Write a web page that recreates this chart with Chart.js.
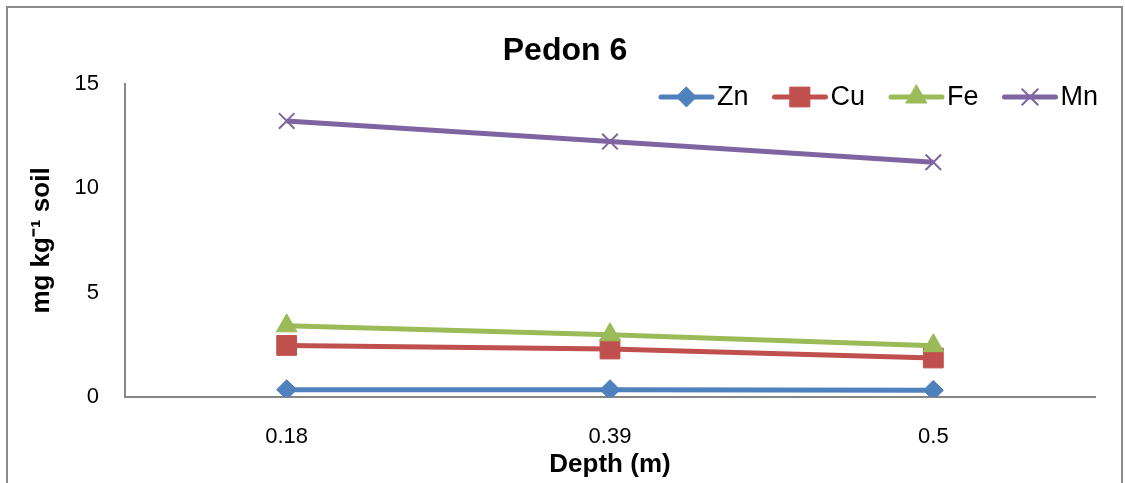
<!DOCTYPE html>
<html>
<head>
<meta charset="utf-8">
<script src="https://cdn.jsdelivr.net/npm/chart.js@4.4.1/dist/chart.umd.min.js"></script>
<style>
  html, body { margin: 0; padding: 0; background: #ffffff; }
  #wrap { width: 1125px; height: 483px; position: relative; }
</style>
</head>
<body>
<div id="wrap"><canvas id="c" width="1125" height="483"></canvas></div>
<script>
// Depth categories (m)
const depths = ['0.18', '0.39', '0.5'];

// Micronutrient contents, mg kg-1 soil
const zn = [0.35, 0.35, 0.32];
const cu = [2.47, 2.30, 1.87];
const fe = [3.41, 2.98, 2.46];
const mn = [13.23, 12.24, 11.25];

const seriesNames = ['Zn', 'Cu', 'Fe', 'Mn'];
const yTicks = [0, 5, 10, 15];

const FONT = "'Liberation Sans', Arial, sans-serif";
const colors = { Zn: '#4F81BD', Cu: '#C0504D', Fe: '#9BBB59', Mn: '#8064A2' };
const styles = {
  Zn: { pointStyle: 'rectRot', radius: 10, bw: 1 },
  Cu: { pointStyle: 'rect', radius: 14, bw: 1 },
  Fe: { pointStyle: 'triangle', radius: 12, bw: 1 },
  Mn: { pointStyle: 'crossRot', radius: 11, bw: 2 }
};
const values = { Zn: zn, Cu: cu, Fe: fe, Mn: mn };

function makeDataset(name, order) {
  const s = styles[name];
  return {
    label: name,
    data: values[name],
    borderColor: colors[name],
    backgroundColor: colors[name],
    borderWidth: 5,
    tension: 0,
    pointStyle: s.pointStyle,
    pointRadius: s.radius,
    pointHoverRadius: s.radius,
    pointBorderWidth: s.bw,
    pointBackgroundColor: colors[name],
    pointBorderColor: colors[name],
    order: order
  };
}

// Marker painter for the legend keys
function drawMarker(ctx, style, x, y, r, color, bw) {
  ctx.save();
  ctx.fillStyle = color;
  ctx.strokeStyle = color;
  ctx.lineWidth = bw;
  ctx.beginPath();
  if (style === 'rectRot') {
    ctx.moveTo(x, y - r); ctx.lineTo(x + r, y); ctx.lineTo(x, y + r); ctx.lineTo(x - r, y);
    ctx.closePath(); ctx.fill(); ctx.stroke();
  } else if (style === 'rect') {
    const h = r * Math.SQRT1_2;
    ctx.rect(x - h, y - h, 2 * h, 2 * h); ctx.fill(); ctx.stroke();
  } else if (style === 'triangle') {
    const w = r * Math.sin(Math.PI / 3);
    ctx.moveTo(x, y - r); ctx.lineTo(x + w, y + r / 2); ctx.lineTo(x - w, y + r / 2);
    ctx.closePath(); ctx.fill(); ctx.stroke();
  } else if (style === 'crossRot') {
    const d = r * Math.SQRT1_2;
    ctx.moveTo(x - d, y - d); ctx.lineTo(x + d, y + d);
    ctx.moveTo(x - d, y + d); ctx.lineTo(x + d, y - d);
    ctx.stroke();
  }
  ctx.restore();
}

// Outer frame and white backdrop
const framePlugin = {
  id: 'frame',
  beforeDraw(chart) {
    const ctx = chart.ctx;
    ctx.save();
    ctx.fillStyle = '#ffffff';
    ctx.fillRect(0, 0, chart.width, chart.height);
    ctx.strokeStyle = '#8a8a8a';
    ctx.lineWidth = 2;
    ctx.strokeRect(7, 7, 1115, 520);
    ctx.restore();
  }
};

// Legend drawn inside the plot, line + marker keys
const lineLegend = {
  id: 'lineLegend',
  afterDraw(chart) {
    const ctx = chart.ctx;
    const font = '27px ' + FONT;
    ctx.save();
    ctx.font = font;
    const keyLen = 55, textGap = 3, itemGap = 24;
    const widths = seriesNames.map(n => ctx.measureText(n).width);
    let total = 0;
    widths.forEach((w, i) => { total += keyLen + textGap + w + (i < widths.length - 1 ? itemGap : 0); });
    let x = chart.chartArea.right + 3 - total;
    const y = chart.chartArea.top + 13;
    seriesNames.forEach((n, i) => {
      const s = styles[n];
      ctx.strokeStyle = colors[n];
      ctx.lineWidth = 5;
      ctx.lineCap = 'round';
      ctx.beginPath();
      ctx.moveTo(x + 2, y); ctx.lineTo(x + keyLen - 2, y);
      ctx.stroke();
      drawMarker(ctx, s.pointStyle, x + keyLen / 2, y, s.radius, colors[n], s.bw);
      ctx.fillStyle = '#000000';
      ctx.textBaseline = 'middle';
      ctx.textAlign = 'left';
      ctx.fillText(n, x + keyLen + textGap, y + 1);
      x += keyLen + textGap + widths[i] + itemGap;
    });
    ctx.restore();
  }
};

new Chart(document.getElementById('c'), {
  type: 'line',
  data: {
    labels: depths,
    datasets: [
      makeDataset('Zn', 4),
      makeDataset('Cu', 3),
      makeDataset('Fe', 2),
      makeDataset('Mn', 1)
    ]
  },
  options: {
    responsive: false,
    animation: false,
    events: [],
    layout: { padding: { left: 35, right: 30, top: 0, bottom: 0 } },
    plugins: {
      legend: { display: false },
      tooltip: { enabled: false },
      title: {
        display: true,
        text: 'Pedon 6',
        color: '#000000',
        font: { family: FONT, size: 32, weight: 'bold', lineHeight: 1.2 },
        padding: { top: 32, bottom: 13.6 }
      }
    },
    scales: {
      x: {
        type: 'category',
        offset: true,
        grid: { display: true, drawOnChartArea: false, drawTicks: false },
        border: { display: true, color: '#868686', width: 2 },
        ticks: {
          color: '#000000',
          padding: 27,
          maxRotation: 0,
          font: { family: FONT, size: 22 }
        },
        title: {
          display: true,
          text: 'Depth (m)',
          color: '#000000',
          font: { family: FONT, size: 26, weight: 'bold', lineHeight: 1.2 },
          padding: { top: 0, bottom: 3 }
        },
        afterFit(scale) { scale.height = 86; }
      },
      y: {
        min: 0,
        max: 15,
        afterBuildTicks(scale) { scale.ticks = yTicks.map(v => ({ value: v })); },
        grid: { display: true, drawOnChartArea: false, drawTicks: false },
        border: { display: true, color: '#868686', width: 2 },
        ticks: {
          color: '#000000',
          padding: 26,
          font: { family: FONT, size: 22 }
        },
        title: {
          display: true,
          text: 'mg kg⁻¹ soil',
          color: '#000000',
          font: { family: FONT, size: 26, weight: 'bold', lineHeight: 0.5 },
          padding: { top: 0.5, bottom: 0 }
        },
        afterFit(scale) { scale.width = 90; }
      }
    }
  },
  plugins: [framePlugin, lineLegend]
});
</script>
</body>
</html>
